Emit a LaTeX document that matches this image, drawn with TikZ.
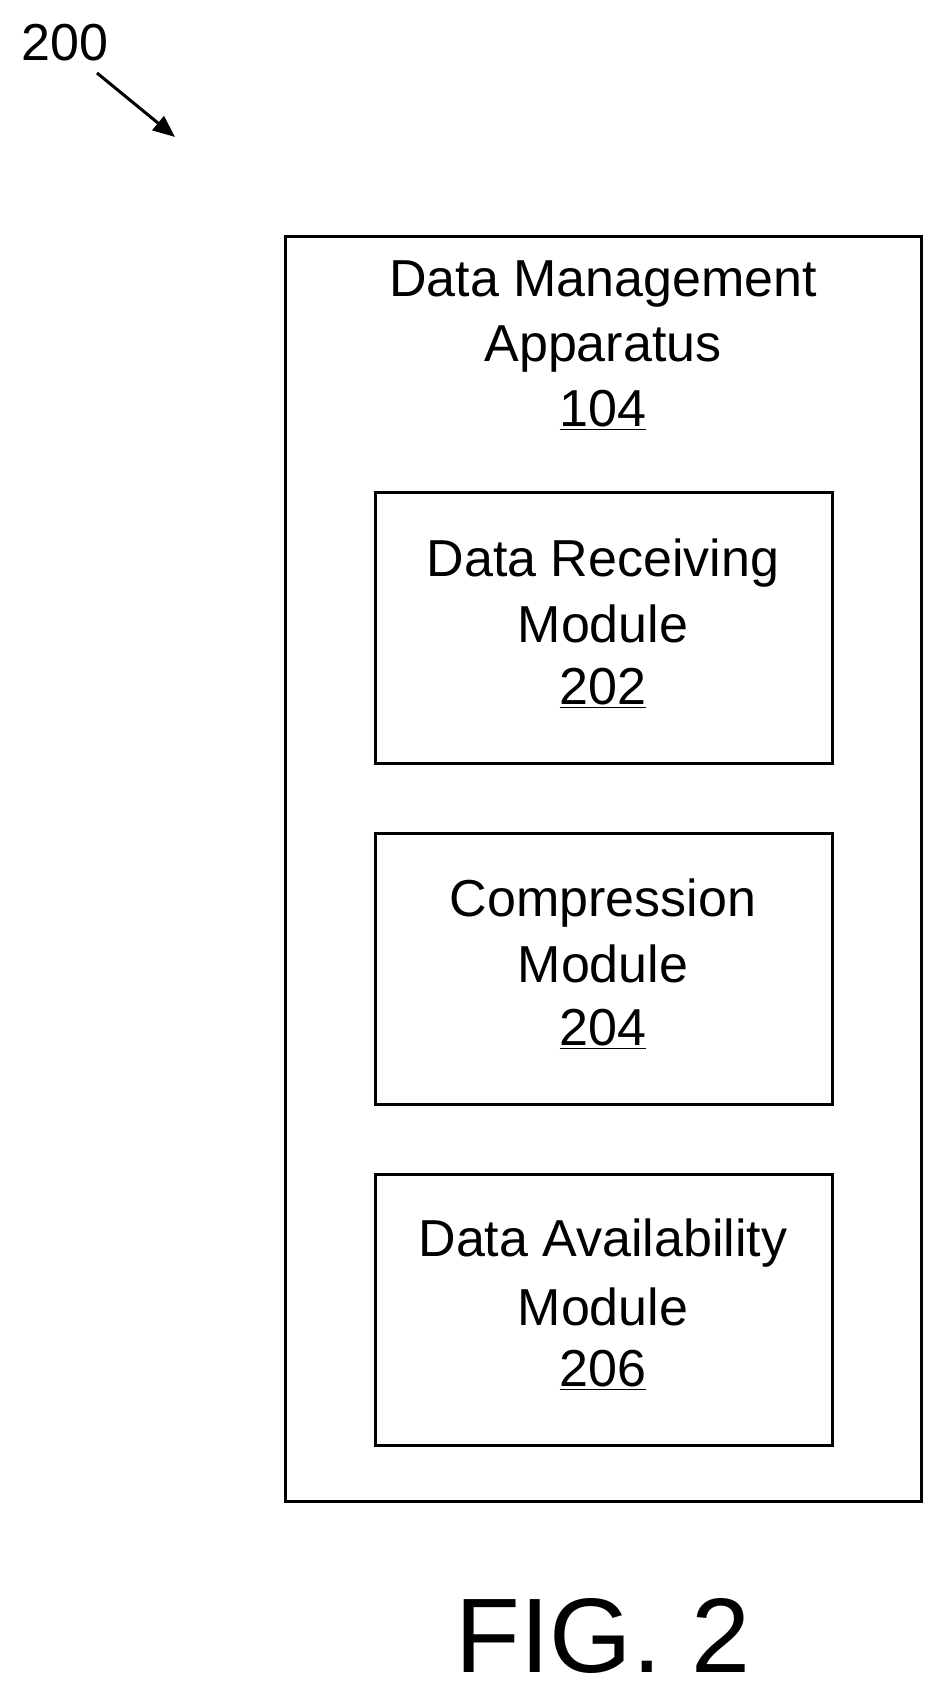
\documentclass[tikz,border=0pt]{standalone}
\usepackage{fontspec}
\setmainfont{Liberation Sans}
\usetikzlibrary{arrows.meta}
\begin{document}
\begin{tikzpicture}[x=1pt,y=-1pt,
  box/.style={draw,line width=3pt},
  lbl/.style={font=\fontsize{52}{58}\selectfont,anchor=center,inner sep=0},
  num/.style={lbl}]
\useasboundingbox (0,0) rectangle (944,1694);
\node[box,minimum width=636,minimum height=1265,anchor=north west] (outer) at (284,235) {};
\node[box,minimum width=457,minimum height=271,anchor=north west] (m1) at (374,491) {};
\node[box,minimum width=457,minimum height=271,anchor=north west] (m2) at (374,832) {};
\node[box,minimum width=457,minimum height=271,anchor=north west] (m3) at (374,1173) {};
\node[lbl] (t1) at (603,284) {Data Management};
\node[lbl] (t2) at (603,349) {Apparatus};
\node[lbl] (t3) at (603,410) {\underline{104}};
\node[lbl] (a1) at (603,563) {Data Receiving};
\node[lbl] (a2) at (603,624) {Module};
\node[lbl] (a3) at (603,688) {\underline{202}};
\node[lbl] (b1) at (603,903) {Compression};
\node[lbl] (b2) at (603,964) {Module};
\node[lbl] (b3) at (603,1029) {\underline{204}};
\node[lbl] (c1) at (603,1243) {Data Availability};
\node[lbl] (c2) at (603,1307) {Module};
\node[lbl] (c3) at (603,1370) {\underline{206}};
\node[lbl,font=\fontsize{106}{112}\selectfont] (fig) at (603,1636) {FIG. 2};
\node[lbl] (ref) at (65,43) {200};
\coordinate (as) at (97,73);
\coordinate (ae) at (175,137);
\draw[line width=3pt,-{Triangle[length=22pt,width=18pt]}] (as) -- (ae);
\end{tikzpicture}
\end{document}
